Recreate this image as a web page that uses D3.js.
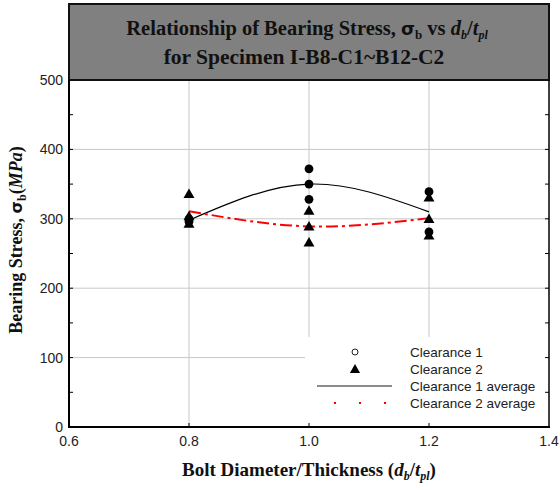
<!DOCTYPE html>
<html>
<head>
<meta charset="utf-8">
<script src="https://cdn.jsdelivr.net/npm/d3@7"></script>
<style>
  body { margin: 0; background: #fff; }
  svg { display: block; }
</style>
</head>
<body>
<div id="chart"></div>
<script>
// data
var xCats = [0.8, 1.0, 1.2];
var clearance1 = [[0.8, 300], [0.8, 296], [1.0, 372], [1.0, 350], [1.0, 328], [1.2, 339], [1.2, 281]];
var clearance2 = [[0.8, 336], [0.8, 304], [0.8, 293], [1.0, 312], [1.0, 289], [1.0, 266], [1.2, 331], [1.2, 300], [1.2, 276]];
var clearance1Avg = [298, 350, 310];
var clearance2Avg = [311, 289, 301];
var xTicks = [0.6, 0.8, 1.0, 1.2, 1.4];
var yTicks = [0, 100, 200, 300, 400, 500];
var yMinor = [50, 150, 250, 350, 450];

var width = 560, height = 490;
var margin = { top: 80, right: 11, bottom: 63, left: 69 };

var svg = d3.select('#chart').append('svg')
  .attr('width', width)
  .attr('height', height);

var x = d3.scaleLinear().domain([0.6, 1.4]).range([margin.left, width - margin.right]);
var y = d3.scaleLinear().domain([0, 500]).range([height - margin.bottom, margin.top]);

var serif = 'Liberation Serif, Times New Roman, serif';
var sans = 'Liberation Sans, Arial, sans-serif';

// grid
svg.append('g').selectAll('line')
  .data(xCats)
  .enter().append('line')
  .attr('x1', d => x(d)).attr('x2', d => x(d))
  .attr('y1', y(0)).attr('y2', y(500))
  .attr('stroke', '#c8c8c8').attr('stroke-width', 1);

svg.append('g').selectAll('line')
  .data([100, 200, 300, 400])
  .enter().append('line')
  .attr('x1', x(0.6)).attr('x2', x(1.4))
  .attr('y1', d => y(d)).attr('y2', d => y(d))
  .attr('stroke', '#c8c8c8').attr('stroke-width', 1);

// title box
svg.append('rect')
  .attr('x', x(0.6)).attr('y', 4)
  .attr('width', x(1.4) - x(0.6)).attr('height', y(500) - 4)
  .attr('fill', '#808080').attr('stroke', '#111').attr('stroke-width', 2);

var title = svg.append('text')
  .attr('text-anchor', 'middle')
  .attr('font-family', serif)
  .attr('font-weight', 'bold')
  .attr('font-size', 20.5)
  .attr('fill', '#111');
var t1 = title.append('tspan').attr('x', 307).attr('y', 35);
t1.append('tspan').text('Relationship of Bearing Stress, ');
t1.append('tspan').attr('font-family', 'DejaVu Sans').attr('font-size', 18).text('σ');
t1.append('tspan').attr('font-size', 13).attr('dy', 4).text('b');
t1.append('tspan').attr('dy', -4).text(' vs ');
t1.append('tspan').attr('font-style', 'italic').text('d');
t1.append('tspan').attr('font-style', 'italic').attr('font-size', 12).attr('dy', 4).text('b');
t1.append('tspan').attr('dy', -4).text('/');
t1.append('tspan').attr('font-style', 'italic').text('t');
t1.append('tspan').attr('font-style', 'italic').attr('font-size', 12).attr('dy', 4).text('pl');
title.append('tspan').attr('x', 304).attr('y', 64).attr('font-size', 21.5).text('for Specimen I-B8-C1~B12-C2');

// legend background (covers grid)
svg.append('rect')
  .attr('x', 305).attr('y', 337)
  .attr('width', x(1.4) - 305).attr('height', y(0) - 337)
  .attr('fill', '#fff');

// axes frame
svg.append('line').attr('x1', x(0.6)).attr('x2', x(0.6)).attr('y1', y(0)).attr('y2', y(500))
  .attr('stroke', '#000').attr('stroke-width', 2);
svg.append('line').attr('x1', x(0.6) - 1).attr('x2', x(1.4) + 1).attr('y1', y(0)).attr('y2', y(0))
  .attr('stroke', '#000').attr('stroke-width', 2);
svg.append('line').attr('x1', x(1.4)).attr('x2', x(1.4)).attr('y1', y(0)).attr('y2', y(500))
  .attr('stroke', '#000').attr('stroke-width', 1.5);

// inward ticks
var yAllTicks = yTicks.concat(yMinor).filter(d => d > 0 && d < 500);
svg.append('g').selectAll('line')
  .data(yAllTicks)
  .enter().append('line')
  .attr('x1', x(0.6)).attr('x2', x(0.6) + 4)
  .attr('y1', d => y(d)).attr('y2', d => y(d))
  .attr('stroke', '#000');
svg.append('g').selectAll('line')
  .data(yAllTicks)
  .enter().append('line')
  .attr('x1', x(1.4)).attr('x2', x(1.4) - 4)
  .attr('y1', d => y(d)).attr('y2', d => y(d))
  .attr('stroke', '#000');
svg.append('g').selectAll('line')
  .data(xCats)
  .enter().append('line')
  .attr('x1', d => x(d)).attr('x2', d => x(d))
  .attr('y1', y(0)).attr('y2', y(0) - 4)
  .attr('stroke', '#000');

// tick labels
svg.append('g').selectAll('text')
  .data(yTicks)
  .enter().append('text')
  .attr('x', x(0.6) - 6)
  .attr('y', d => y(d) + 5)
  .attr('text-anchor', 'end')
  .attr('font-family', sans)
  .attr('font-size', 14)
  .attr('fill', '#222')
  .text(d => d);

svg.append('g').selectAll('text')
  .data(xTicks)
  .enter().append('text')
  .attr('x', d => x(d))
  .attr('y', y(0) + 19)
  .attr('text-anchor', 'middle')
  .attr('font-family', sans)
  .attr('font-size', 14)
  .attr('fill', '#222')
  .text(d => d3.format('.1f')(d));

// axis titles
var xl = svg.append('text')
  .attr('x', 309).attr('y', 476)
  .attr('text-anchor', 'middle')
  .attr('font-family', serif)
  .attr('font-weight', 'bold')
  .attr('font-size', 19)
  .attr('fill', '#111');
xl.append('tspan').text('Bolt Diameter/Thickness (');
xl.append('tspan').attr('font-style', 'italic').text('d');
xl.append('tspan').attr('font-style', 'italic').attr('font-size', 12).attr('dy', 4).text('b');
xl.append('tspan').attr('dy', -4).text('/');
xl.append('tspan').attr('font-style', 'italic').text('t');
xl.append('tspan').attr('font-style', 'italic').attr('font-size', 12).attr('dy', 4).text('pl');
xl.append('tspan').attr('dy', -4).text(')');

var yl = svg.append('text')
  .attr('transform', 'translate(22,' + 240 + ') rotate(-90)')
  .attr('text-anchor', 'middle')
  .attr('font-family', serif)
  .attr('font-weight', 'bold')
  .attr('font-size', 18)
  .attr('fill', '#111');
yl.append('tspan').text('Bearing Stress, ');
yl.append('tspan').attr('font-family', 'DejaVu Sans').attr('font-size', 16).text('σ');
yl.append('tspan').attr('font-size', 12).attr('dy', 4).text('b');
yl.append('tspan').attr('dy', -4).text('(');
yl.append('tspan').attr('font-style', 'italic').text('MPa');
yl.append('tspan').text(')');

// average curves
var avgLine = d3.line()
  .x((d, i) => x(xCats[i]))
  .y(d => y(d))
  .curve(d3.curveNatural);

svg.append('path')
  .datum(clearance1Avg)
  .attr('d', avgLine)
  .attr('fill', 'none')
  .attr('stroke', '#000')
  .attr('stroke-width', 1.2);

svg.append('path')
  .datum(clearance2Avg)
  .attr('d', avgLine)
  .attr('fill', 'none')
  .attr('stroke', '#ff0000')
  .attr('stroke-width', 2)
  .attr('stroke-dasharray', '12,4,3,4');

// markers
var tri = d3.symbol().type(d3.symbolTriangle).size(52);

svg.append('g').selectAll('circle')
  .data(clearance1)
  .enter().append('circle')
  .attr('cx', d => x(d[0]))
  .attr('cy', d => y(d[1]))
  .attr('r', 4.4)
  .attr('fill', '#000');

svg.append('g').selectAll('path')
  .data(clearance2)
  .enter().append('path')
  .attr('d', tri)
  .attr('transform', d => 'translate(' + x(d[0]) + ',' + (y(d[1]) + 1) + ')')
  .attr('fill', '#000');

// legend
var legendLabels = ['Clearance 1', 'Clearance 2', 'Clearance 1 average', 'Clearance 2 average'];
var ly = [352, 369, 386, 403];
var lg = svg.append('g')
  .attr('font-family', sans)
  .attr('font-size', 13.5)
  .attr('fill', '#222');
lg.selectAll('text')
  .data(legendLabels)
  .enter().append('text')
  .attr('x', 410)
  .attr('y', (d, i) => ly[i] + 5)
  .text(d => d);

lg.append('circle').attr('cx', 355).attr('cy', ly[0]).attr('r', 3)
  .attr('fill', 'none').attr('stroke', '#222').attr('stroke-width', 1);
lg.append('path').attr('d', d3.symbol().type(d3.symbolTriangle).size(45))
  .attr('transform', 'translate(355,' + (ly[1] + 1) + ')').attr('fill', '#000');
lg.append('line').attr('x1', 317).attr('x2', 392).attr('y1', ly[2]).attr('y2', ly[2])
  .attr('stroke', '#666').attr('stroke-width', 1.5);
lg.append('line').attr('x1', 334).attr('x2', 388).attr('y1', ly[3]).attr('y2', ly[3])
  .attr('stroke', '#ff0000').attr('stroke-width', 2)
  .attr('stroke-dasharray', '2,23');
</script>
</body>
</html>
